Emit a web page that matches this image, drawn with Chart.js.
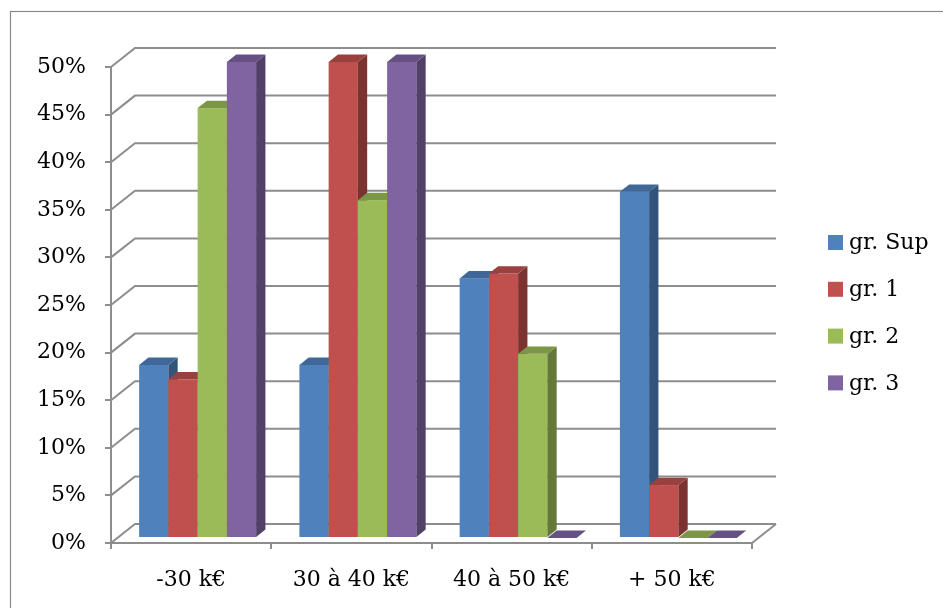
<!DOCTYPE html>
<html>
<head>
<meta charset="utf-8">
<script src="https://cdn.jsdelivr.net/npm/chart.js@4.4.1/dist/chart.umd.min.js"></script>
<style>
  html, body { margin: 0; padding: 0; background: #ffffff; }
  #wrap { width: 943px; height: 608px; }
</style>
</head>
<body>
<div id="wrap"><canvas id="c" width="943" height="608"></canvas></div>
<script>
// Salary bands and the share of each group falling in them (percent)
const categories = ['-30 k€', '30 à 40 k€', '40 à 50 k€', '+ 50 k€'];
const grSup = [18.18, 18.18, 27.27, 36.36];
const gr1 = [16.67, 50, 27.78, 5.56];
const gr2 = [45.16, 35.48, 19.35, 0];
const gr3 = [50, 50, 0, 0];
const seriesNames = ['gr. Sup', 'gr. 1', 'gr. 2', 'gr. 3'];
const seriesColors = ['#4F81BD', '#C0504D', '#9BBB59', '#8064A2'];
const yMax = 50;
const yStep = 5;

const FONT = "'DejaVu Serif', serif";
const LINE = '#8d8d8d';

// depth of the plot box (back wall offset) and of the columns inside it
const WALL = { dx: 24, dy: -19 };
const FRONT_SHIFT = { dx: 6.5, dy: -5 };
const BAR_DEPTH = { dx: 9.3, dy: -7.4 };

function shade(hex, k) {
  const n = parseInt(hex.slice(1), 16);
  const r = Math.round(((n >> 16) & 255) * k);
  const g = Math.round(((n >> 8) & 255) * k);
  const b = Math.round((n & 255) * k);
  return `rgb(${r},${g},${b})`;
}

function poly(ctx, pts, fill) {
  ctx.beginPath();
  ctx.moveTo(pts[0][0], pts[0][1]);
  for (let i = 1; i < pts.length; i++) ctx.lineTo(pts[i][0], pts[i][1]);
  ctx.closePath();
  ctx.fillStyle = fill;
  ctx.fill();
}

const box3d = {
  id: 'box3d',
  beforeDraw(chart) {
    const ctx = chart.ctx;
    const { left, right, bottom } = chart.chartArea;
    const y = chart.scales.y;
    ctx.save();
    // frame around the whole chart
    ctx.strokeStyle = '#8a8a8a';
    ctx.lineWidth = 1.2;
    ctx.strokeRect(10.5, 11.5, 1000, 1000);

    // back wall gridlines + diagonals on the left wall
    ctx.strokeStyle = LINE;
    ctx.lineWidth = 2;
    y.ticks.forEach(t => {
      const py = y.getPixelForValue(t.value);
      ctx.beginPath();
      ctx.moveTo(left, py);
      ctx.lineTo(left + WALL.dx, py + WALL.dy);
      ctx.lineTo(right + WALL.dx, py + WALL.dy);
      ctx.stroke();
    });
    // floor right edge
    ctx.beginPath();
    ctx.moveTo(right, bottom);
    ctx.lineTo(right + WALL.dx, bottom + WALL.dy);
    ctx.stroke();
    ctx.restore();
  },
  beforeDatasetsDraw(chart) {
    const ctx = chart.ctx;
    const n = chart.data.labels.length;
    ctx.save();
    for (let i = 0; i < n; i++) {
      chart.data.datasets.forEach((ds, d) => {
        const el = chart.getDatasetMeta(d).data[i];
        const p = el.getProps(['x', 'y', 'base', 'width'], true);
        const l = p.x - p.width / 2 + FRONT_SHIFT.dx;
        const r = p.x + p.width / 2 + FRONT_SHIFT.dx;
        const t = Math.min(p.y, p.base) + FRONT_SHIFT.dy;
        const b = Math.max(p.y, p.base) + FRONT_SHIFT.dy;
        const col = ds.backgroundColor;
        if (b - t > 0.01) {
          ctx.fillStyle = col;
          ctx.fillRect(l, t, r - l, b - t);
          poly(ctx, [[r, t], [r + BAR_DEPTH.dx, t + BAR_DEPTH.dy],
                     [r + BAR_DEPTH.dx, b + BAR_DEPTH.dy], [r, b]], shade(col, 0.64));
        }
        poly(ctx, [[l, t], [r, t], [r + BAR_DEPTH.dx, t + BAR_DEPTH.dy],
                   [l + BAR_DEPTH.dx, t + BAR_DEPTH.dy]], shade(col, 0.8));
      });
    }
    ctx.restore();
    return false;
  },
  afterDraw(chart) {
    // legend on the right
    const ctx = chart.ctx;
    ctx.save();
    ctx.font = `22px ${FONT}`;
    ctx.textBaseline = 'middle';
    ctx.textAlign = 'left';
    chart.data.datasets.forEach((ds, k) => {
      const cy = 242.5 + k * 46.8;
      ctx.fillStyle = ds.backgroundColor;
      ctx.fillRect(828, cy - 7.5, 15, 15);
      ctx.fillStyle = '#000';
      ctx.fillText(ds.label, 849, cy + 1);
    });
    ctx.restore();
  }
};

const chart = new Chart(document.getElementById('c'), {
  type: 'bar',
  data: {
    labels: categories,
    datasets: [grSup, gr1, gr2, gr3].map((vals, k) => ({
      label: seriesNames[k],
      data: vals,
      backgroundColor: seriesColors[k],
      borderWidth: 0,
      barPercentage: 1,
      categoryPercentage: 0.73
    }))
  },
  options: {
    responsive: false,
    animation: false,
    devicePixelRatio: 1,
    layout: { padding: { left: 0, right: 191, top: 67, bottom: 0 } },
    plugins: { legend: { display: false }, tooltip: { enabled: false } },
    scales: {
      x: {
        afterFit(s) { s.height = 65; },
        grid: { display: true, drawOnChartArea: false, drawTicks: true, tickLength: 6, color: LINE, lineWidth: 2, offset: true },
        border: { display: true, color: LINE, width: 2 },
        ticks: { color: '#000', font: { family: FONT, size: 22 }, padding: 18 }
      },
      y: {
        min: 0,
        max: yMax,
        afterFit(s) { s.width = 111; },
        grid: { display: true, drawOnChartArea: false, drawTicks: true, tickLength: 6, color: LINE, lineWidth: 2 },
        border: { display: true, color: LINE, width: 2 },
        ticks: {
          stepSize: yStep,
          color: '#000',
          font: { family: FONT, size: 22 },
          padding: 19,
          callback: v => v + '%'
        }
      }
    }
  },
  plugins: [box3d]
});
</script>
</body>
</html>
